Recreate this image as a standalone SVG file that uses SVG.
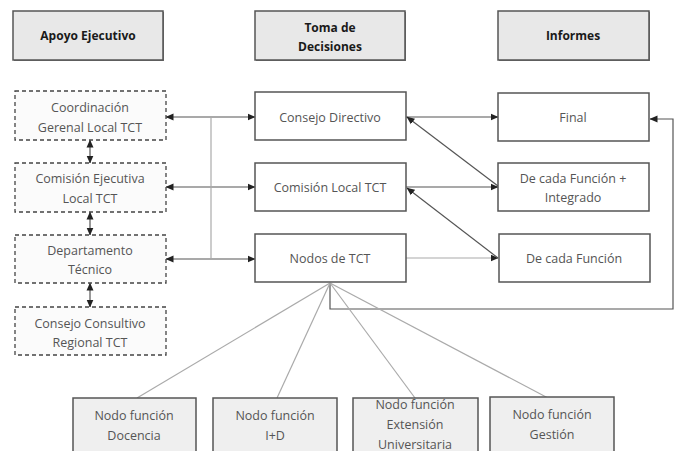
<svg xmlns="http://www.w3.org/2000/svg" width="678" height="451" viewBox="0 0 678 451">
<style>
text{font-family:"Open Sans","Liberation Sans",sans-serif;font-size:12.5px;fill:#555;text-anchor:middle;dominant-baseline:central}
.hdr rect{fill:#e8e8e8;stroke:#555;stroke-width:1.5}
.hdr text{fill:#1a1a1a;font-weight:bold;font-size:12px}
.shadow{fill:#888}
.dash rect{fill:#fbfbfb;stroke:#444;stroke-width:1.3;stroke-dasharray:4 3}
.box rect{fill:#fff;stroke:#555;stroke-width:1.5}
.bot rect{fill:#efefef;stroke:#555;stroke-width:1.5}
.c{fill:none;stroke:#555;stroke-width:1.2}
.cl{fill:none;stroke:#aaa;stroke-width:1.2}
</style>
<defs>
<marker id="ah" viewBox="0 0 8 8" refX="7.5" refY="4" markerWidth="8" markerHeight="8" markerUnits="userSpaceOnUse" orient="auto-start-reverse">
<path d="M0,0.5 L8,4 L0,7.5 Z" fill="#222"/>
</marker>
</defs>
<g id="connectors">
<line class="c" x1="166" y1="117" x2="255" y2="117" marker-start="url(#ah)" marker-end="url(#ah)"/>
<line class="c" x1="166" y1="187" x2="255" y2="187" marker-start="url(#ah)" marker-end="url(#ah)"/>
<line class="c" x1="166" y1="259" x2="255" y2="259" marker-start="url(#ah)" marker-end="url(#ah)"/>
<line class="cl" x1="211" y1="117" x2="211" y2="259"/>
<line class="c" x1="90" y1="140" x2="90" y2="163" marker-start="url(#ah)" marker-end="url(#ah)"/>
<line class="c" x1="90" y1="212" x2="90" y2="235" marker-start="url(#ah)" marker-end="url(#ah)"/>
<line class="c" x1="90" y1="283" x2="90" y2="307" marker-start="url(#ah)" marker-end="url(#ah)"/>
<line class="c" x1="406" y1="117" x2="498" y2="117" marker-end="url(#ah)"/>
<line class="c" x1="406" y1="187" x2="498" y2="187" marker-end="url(#ah)"/>
<line class="cl" x1="406" y1="258" x2="498" y2="258" marker-end="url(#ah)"/>
<line class="c" x1="498" y1="186" x2="407" y2="117" marker-end="url(#ah)"/>
<line class="c" x1="498" y1="258" x2="407" y2="188" marker-end="url(#ah)"/>
<polyline class="c" points="330,283 330,309 673,309 673,119 650,119" marker-end="url(#ah)"/>
<line class="cl" x1="330" y1="283" x2="137" y2="398"/>
<line class="cl" x1="330" y1="283" x2="277" y2="398"/>
<line class="cl" x1="330" y1="283" x2="415" y2="398"/>
<line class="cl" x1="330" y1="283" x2="548" y2="398"/>
</g>
<g id="h-apoyo" class="hdr"><rect class="shadow" x="14" y="12" width="150" height="49" style="fill:#777;stroke:none"/><rect x="13" y="11" width="150" height="49"/><text x="88" y="35">Apoyo Ejecutivo</text></g>
<g id="h-toma" class="hdr"><rect x="256" y="12" width="150" height="49" style="fill:#777;stroke:none"/><rect x="255" y="11" width="150" height="49"/><text x="330" y="27">Toma de</text><text x="330" y="46">Decisiones</text></g>
<g id="h-informes" class="hdr"><rect x="499" y="12" width="151" height="49" style="fill:#777;stroke:none"/><rect x="498" y="11" width="151" height="49"/><text x="573" y="35">Informes</text></g>
<g id="coordinacion" class="dash"><rect x="15" y="91" width="151" height="49"/><text x="90" y="107">Coordinación</text><text x="90" y="127">Gerenal Local TCT</text></g>
<g id="comision-ejecutiva" class="dash"><rect x="15" y="163" width="151" height="49"/><text x="90" y="178">Comisión Ejecutiva</text><text x="90" y="198">Local TCT</text></g>
<g id="departamento" class="dash"><rect x="15" y="235" width="151" height="48"/><text x="90" y="250">Departamento</text><text x="90" y="269">Técnico</text></g>
<g id="consejo-consultivo" class="dash"><rect x="15" y="307" width="151" height="48"/><text x="90" y="323">Consejo Consultivo</text><text x="90" y="342">Regional TCT</text></g>
<g id="consejo-directivo" class="box"><rect x="255" y="92" width="151" height="48"/><text x="330" y="117">Consejo Directivo</text></g>
<g id="comision-local" class="box"><rect x="255" y="163" width="151" height="48"/><text x="330" y="187">Comisión Local TCT</text></g>
<g id="nodos" class="box"><rect x="255" y="234" width="151" height="48"/><text x="330" y="258">Nodos de TCT</text></g>
<g id="final" class="box"><rect x="498" y="93" width="151" height="48"/><text x="573" y="117">Final</text></g>
<g id="cada-integrado" class="box"><rect x="498" y="163" width="151" height="48"/><text x="573" y="178">De cada Función +</text><text x="573" y="197">Integrado</text></g>
<g id="cada-funcion" class="box"><rect x="499" y="234" width="151" height="48"/><text x="574" y="258">De cada Función</text></g>
<g id="docencia" class="bot"><rect x="73" y="398" width="123" height="60"/><text x="134" y="415">Nodo función</text><text x="134" y="435">Docencia</text></g>
<g id="imasd" class="bot"><rect x="213" y="398" width="124" height="60"/><text x="275" y="415">Nodo función</text><text x="275" y="435">I+D</text></g>
<g id="extension" class="bot"><rect x="353" y="398" width="125" height="60"/><text x="415" y="404">Nodo función</text><text x="415" y="424">Extensión</text><text x="415" y="444">Universitaria</text></g>
<g id="gestion" class="bot"><rect x="490" y="397" width="124" height="60"/><text x="552" y="414">Nodo función</text><text x="552" y="434">Gestión</text></g>
</svg>
